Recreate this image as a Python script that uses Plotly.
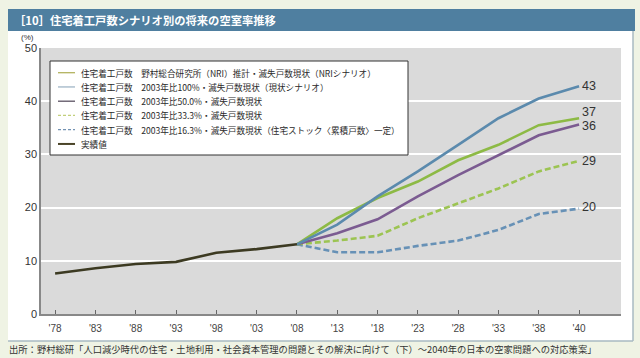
import plotly.graph_objects as go

# ---------------- data ----------------
categories = ["'78", "'83", "'88", "'93", "'98", "'03", "'08",
              "'13", "'18", "'23", "'28", "'33", "'38", "'40"]
actual_vals = [7.6, 8.6, 9.4, 9.8, 11.5, 12.2, 13.1]            # '78-'08
nri_vals    = [13.1, 18.0, 21.8, 24.9, 28.9, 31.8, 35.5, 36.8]  # '08-'40
s100_vals   = [13.1, 16.8, 22.1, 26.8, 31.8, 36.8, 40.5, 42.8]
s50_vals    = [13.1, 15.2, 17.8, 22.1, 26.1, 29.9, 33.6, 35.6]
s33_vals    = [13.1, 13.8, 14.7, 18.0, 20.8, 23.6, 26.8, 28.8]
s16_vals    = [13.1, 11.6, 11.6, 12.8, 13.8, 15.8, 18.8, 19.8]
end_labels  = ["43", "37", "36", "29", "20"]
legend_labels = [
    "住宅着工戸数　野村総合研究所（NRI）推計・滅失戸数現状（NRIシナリオ）",
    "住宅着工戸数　2003年比100%・滅失戸数現状（現状シナリオ）",
    "住宅着工戸数　2003年比50.0%・滅失戸数現状",
    "住宅着工戸数　2003年比33.3%・滅失戸数現状",
    "住宅着工戸数　2003年比16.3%・滅失戸数現状（住宅ストック〈累積戸数〉一定）",
    "実績値",
]
title_text = "［10］住宅着工戸数シナリオ別の将来の空室率推移"
source_text = "出所：野村総研「人口減少時代の住宅・土地利用・社会資本管理の問題とその解決に向けて（下）～2040年の日本の空家問題への対応策案」"

# ---------------- geometry helpers ----------------
W, H = 640, 358
L, R, T, B = 41, 621, 48, 314


def px_x(px):
    return (px - L) / (R - L)


def px_y(py):
    return (B - py) / (B - T)


idx = list(range(len(categories)))
hist_x = idx[:len(actual_vals)]
proj_x = idx[len(actual_vals) - 1:]

GREEN = "#8dba45"
BLUE = "#5b8aad"
PURPLE = "#7b5b91"
GREEN_D = "#9cc452"
BLUE_D = "#6791b6"
DARK = "#3c3a22"

series = [
    (nri_vals, GREEN, "solid", legend_labels[0]),
    (s100_vals, BLUE, "solid", legend_labels[1]),
    (s50_vals, PURPLE, "solid", legend_labels[2]),
    (s33_vals, GREEN_D, "6px,3px", legend_labels[3]),
    (s16_vals, BLUE_D, "6px,3px", legend_labels[4]),
]

fig = go.Figure()
for vals, col, dash, name in [series[4], series[3], series[2], series[0], series[1]]:
    fig.add_trace(go.Scatter(x=proj_x, y=vals, mode="lines", name=name,
                             line=dict(color=col, width=2.6, dash=dash),
                             showlegend=False))
fig.add_trace(go.Scatter(x=hist_x, y=actual_vals, mode="lines", name=legend_labels[5],
                         line=dict(color=DARK, width=2.6), showlegend=False))

shapes = []
shapes.append(dict(type="rect", xref="paper", yref="paper", layer="below",
                   x0=px_x(8), x1=px_x(633), y0=px_y(341), y1=px_y(31),
                   fillcolor="white", line=dict(width=0)))
shapes.append(dict(type="rect", xref="paper", yref="paper", layer="below",
                   x0=0, x1=1, y0=0, y1=1, fillcolor="#dadada", line=dict(width=0)))
shapes.append(dict(type="line", xref="paper", yref="paper", layer="below",
                   x0=px_x(633), x1=px_x(633), y0=px_y(31), y1=px_y(341),
                   line=dict(color="#a9bac2", width=1.5)))
shapes.append(dict(type="line", xref="paper", yref="paper", layer="below",
                   x0=px_x(8), x1=px_x(633), y0=px_y(341), y1=px_y(341),
                   line=dict(color="#a9bac2", width=1.5)))
shapes.append(dict(type="rect", xref="paper", yref="paper", layer="below",
                   x0=px_x(8), x1=px_x(635), y0=px_y(31), y1=px_y(9),
                   fillcolor="#4f7fa0", line=dict(width=0)))
shapes.append(dict(type="rect", xref="paper", yref="paper", layer="above",
                   x0=px_x(50), x1=px_x(408), y0=px_y(155), y1=px_y(61),
                   fillcolor="white", line=dict(color="#333333", width=1)))
legend_cols = ["#b3b35e", "#9fb5c6", "#5b5262", "#c2cf7a", "#7392b3", "#4a4428"]
legend_dash = ["solid", "solid", "solid", "3px,2px", "3px,2px", "solid"]
row0, rstep = 72.7, 14.25
annotations = []
for i, lab in enumerate(legend_labels):
    yy = row0 + i * rstep
    shapes.append(dict(type="line", xref="paper", yref="paper", layer="above",
                       x0=px_x(58), x1=px_x(75), y0=px_y(yy), y1=px_y(yy),
                       line=dict(color=legend_cols[i], width=1.3 if i < 5 else 2,
                                 dash=legend_dash[i])))
    annotations.append(dict(xref="paper", yref="paper", x=px_x(79), y=px_y(yy),
                            xanchor="left", yanchor="middle", showarrow=False,
                            text=lab, font=dict(family="Noto Sans CJK JP", size=8.6,
                                                color="#2a2a2a")))

end_vals = [s100_vals[-1], nri_vals[-1], s50_vals[-1], s33_vals[-1], s16_vals[-1]]
end_shift = [0, 6, -1, 0, 2]
for lab, v, ys in zip(end_labels, end_vals, end_shift):
    annotations.append(dict(x=idx[-1], y=v, xref="x", yref="y", xanchor="left",
                            yanchor="middle", xshift=1, yshift=ys, showarrow=False,
                            text=lab, font=dict(family="Liberation Sans", size=12.5,
                                                color="#333333")))

annotations.append(dict(xref="paper", yref="paper", x=px_x(12), y=px_y(20),
                        xanchor="left", yanchor="middle", showarrow=False,
                        text="<b>" + title_text + "</b>",
                        font=dict(family="Noto Sans CJK JP", size=11.3, color="white")))
annotations.append(dict(xref="paper", yref="paper", x=px_x(36), y=px_y(38),
                        xanchor="right", yanchor="middle", showarrow=False,
                        text="(%)", font=dict(family="Liberation Sans", size=8,
                                              color="#333333")))
annotations.append(dict(xref="paper", yref="paper", x=px_x(7), y=px_y(349),
                        xanchor="left", yanchor="middle", showarrow=False,
                        text=source_text,
                        font=dict(family="Noto Sans CJK JP", size=9.3, color="#333333")))

tickvals = idx + [14.03]
ticktext = categories + [""]

fig.update_layout(
    width=W, height=H,
    margin=dict(l=L, r=W - R, t=T, b=H - B, pad=0),
    paper_bgcolor="#eff3e4",
    plot_bgcolor="#dadada",
    showlegend=False,
    shapes=shapes,
    annotations=annotations,
    xaxis=dict(range=[-0.35, 14.04], tickmode="array", tickvals=tickvals,
               ticktext=ticktext, ticks="inside", ticklen=4, tickcolor="#666666",
               tickwidth=1, showgrid=False, zeroline=False, showline=True,
               linecolor="#888888", linewidth=1.5,
               tickfont=dict(family="Liberation Sans", size=10, color="#444444"),
               ticklabelstandoff=4),
    yaxis=dict(range=[0, 50], tickvals=[0, 10, 20, 30, 40, 50], ticks="",
               showgrid=True, gridcolor="white", gridwidth=1.5, zeroline=False,
               showline=True, linecolor="#888888", linewidth=1.5,
               tickfont=dict(family="Liberation Sans", size=11, color="#333333")),
)

fig.write_html("out.html",
               config={"displayModeBar": False},
               post_script="document.body.style.margin='0';"
                           "document.body.style.background='#eff3e4';")
